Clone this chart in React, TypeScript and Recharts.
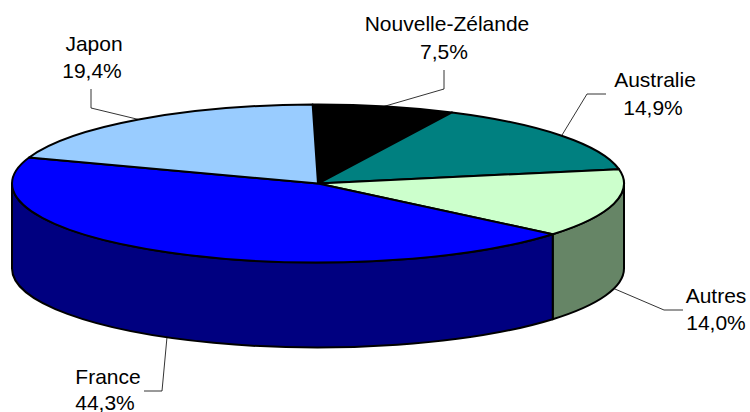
import { PieChart, Pie } from "recharts";

const categories = ["Nouvelle-Zélande", "Australie", "Autres", "France", "Japon"];
const shares = [7.5, 14.9, 14.0, 44.3, 19.4];
const shareLabels = ["7,5%", "14,9%", "14,0%", "44,3%", "19,4%"];
const topColors = ["#000000", "#008080", "#CCFFCC", "#0000FF", "#99CCFF"];
const sideColors = ["#000000", "#004040", "#668566", "#000080", "#4C6680"];

const pieData = categories.map((name, i) => ({ name, value: shares[i] }));

const WIDTH = 750;
const HEIGHT = 412;
const CX = 318;
const CY = 183.5;
const RX = 306;
const RY = 79;
const DEPTH = 85;
const FONT = "'Liberation Sans', Arial, sans-serif";

// hand placed label boxes: elbow + end of the leader, then text anchors per line
const labelLayout = [
  { leader: [[444, 89], [444, 70]], name: [447, 31], pct: [444, 59] },
  { leader: [[587, 94], [606, 94]], name: [655, 87], pct: [653, 115] },
  { leader: [[664, 310], [683, 310]], name: [716, 303], pct: [716, 330] },
  { leader: [[162, 391], [144, 391]], name: [108, 384], pct: [105, 410] },
  { leader: [[91, 108], [91, 89]], name: [94, 51], pct: [92, 78] },
];

const rad = (deg: number) => (deg * Math.PI) / 180;

// point on the squashed rim, angle in recharts degrees (counter clockwise from 3 o'clock)
const rim = (angle: number, cx: number, cy: number) => ({
  x: cx + RX * Math.cos(rad(angle)),
  y: cy - RY * Math.sin(rad(angle)),
});

function TopSlice(props: any) {
  const { cx, cy, startAngle, endAngle, fill } = props;
  const a = rim(startAngle, cx, cy);
  const b = rim(endAngle, cx, cy);
  const large = Math.abs(startAngle - endAngle) > 180 ? 1 : 0;
  return (
    <path
      d={`M${cx},${cy} L${a.x},${a.y} A${RX},${RY} 0 ${large} 1 ${b.x},${b.y} Z`}
      fill={fill}
      stroke="#000"
      strokeWidth={2}
      strokeLinejoin="round"
    />
  );
}

function SideSlice(props: any) {
  const { cx, cy, startAngle, endAngle, fill } = props;
  // only the front half of the rim shows: 0 to -180 in recharts degrees
  const from = Math.min(startAngle, 0);
  const to = Math.max(endAngle, -180);
  if (to >= from) return <g />;
  const a = rim(from, cx, cy);
  const b = rim(to, cx, cy);
  return (
    <path
      d={`M${a.x},${a.y} A${RX},${RY} 0 0 1 ${b.x},${b.y} L${b.x},${b.y + DEPTH} A${RX},${RY} 0 0 0 ${a.x},${a.y + DEPTH} Z`}
      fill={fill}
      stroke="#000"
      strokeWidth={2}
      strokeLinejoin="round"
    />
  );
}

function SliceLabel(props: any) {
  const { cx, cy, midAngle, index } = props;
  const p = rim(midAngle, cx, cy);
  const m = ((midAngle % 360) + 360) % 360;
  const startY = m > 180 ? p.y + DEPTH : p.y;
  const layout = labelLayout[index];
  const pts = [[p.x, startY], ...layout.leader].map((q) => q.join(",")).join(" ");
  return (
    <g>
      <polyline points={pts} fill="none" stroke="#000" strokeWidth={0.8} />
      <text x={layout.name[0]} y={layout.name[1]} textAnchor="middle" fontFamily={FONT} fontSize={21} fill="#000">
        {categories[index]}
      </text>
      <text x={layout.pct[0]} y={layout.pct[1]} textAnchor="middle" fontFamily={FONT} fontSize={21} fill="#000">
        {shareLabels[index]}
      </text>
    </g>
  );
}

export default function App() {
  return (
    <div style={{ position: "absolute", left: 0, top: 0, width: WIDTH, height: HEIGHT, background: "#fff" }}>
      <PieChart width={WIDTH} height={HEIGHT} margin={{ top: 0, right: 0, bottom: 0, left: 0 }}>
        <Pie
          data={pieData.map((d, i) => ({ ...d, fill: sideColors[i] }))}
          dataKey="value"
          cx={CX}
          cy={CY}
          innerRadius={0}
          outerRadius={RX}
          startAngle={91}
          endAngle={-269}
          paddingAngle={0}
          shape={SideSlice}
          isAnimationActive={false}
        />
        <Pie
          data={pieData.map((d, i) => ({ ...d, fill: topColors[i] }))}
          dataKey="value"
          cx={CX}
          cy={CY}
          innerRadius={0}
          outerRadius={RX}
          startAngle={91}
          endAngle={-269}
          paddingAngle={0}
          shape={TopSlice}
          label={SliceLabel}
          labelLine={false}
          isAnimationActive={false}
        />
      </PieChart>
    </div>
  );
}
